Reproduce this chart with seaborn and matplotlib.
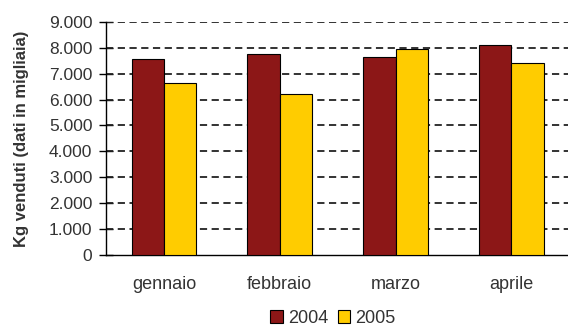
import matplotlib
matplotlib.use("Agg")
import matplotlib.pyplot as plt
import seaborn as sns
import pandas as pd
from matplotlib.ticker import FuncFormatter

mesi = ["gennaio", "febbraio", "marzo", "aprile"]
vendite_2004 = [7570, 7760, 7640, 8100]
vendite_2005 = [6650, 6200, 7970, 7410]
anni = ["2004", "2005"]
colori = ["#8C1717", "#FFCC00"]

df = pd.DataFrame({
    "mese": mesi * 2,
    "anno": [anni[0]] * 4 + [anni[1]] * 4,
    "kg": vendite_2004 + vendite_2005,
})

sns.set_theme(style="white")
plt.rcParams["font.family"] = ["Liberation Sans", "DejaVu Sans"]

fig = plt.figure(figsize=(5.68, 3.26), dpi=100)
ax = fig.add_axes([0.187, 0.218, 0.815, 0.715])

sns.barplot(data=df, x="mese", y="kg", hue="anno", palette=colori,
            width=0.56, edgecolor="black", linewidth=0.8, saturation=1,
            ax=ax, zorder=3)

ax.set_ylim(0, 9000)
ax.set_xlim(-0.5, 3.5)
ax.set_yticks(range(0, 9001, 1000))
ax.yaxis.set_major_formatter(FuncFormatter(lambda v, p: f"{int(v):,}".replace(",", ".")))
for y in range(1000, 9001, 1000):
    ax.axhline(y, color="#222222", linestyle=(0, (4, 2.5)), linewidth=1.3, zorder=1)

for s in ["top", "right"]:
    ax.spines[s].set_visible(False)
ax.spines["left"].set_color("black")
ax.spines["left"].set_linewidth(1.0)
ax.spines["bottom"].set_color("black")
ax.spines["bottom"].set_linewidth(1.0)

ax.tick_params(axis="y", direction="inout", length=10, width=1.0, color="black",
               labelsize=12.5, labelcolor="#333333", left=True, pad=5)
ax.tick_params(axis="x", length=0, labelsize=13, labelcolor="#333333", pad=15)
ax.set_xlabel("")
ax.set_ylabel("Kg venduti (dati in migliaia)", fontsize=12, fontweight="bold",
              color="#333333", labelpad=14)

ax.legend(handles=ax.get_legend_handles_labels()[0], labels=anni,
          loc="upper center", bbox_to_anchor=(0.49, -0.205), ncol=2, frameon=False,
          fontsize=13, handlelength=0.7, handleheight=0.7, handletextpad=0.3,
          columnspacing=0.5, borderaxespad=0)
for t in ax.get_legend().get_texts():
    t.set_color("#333333")

fig.savefig("out.png", dpi=100)
